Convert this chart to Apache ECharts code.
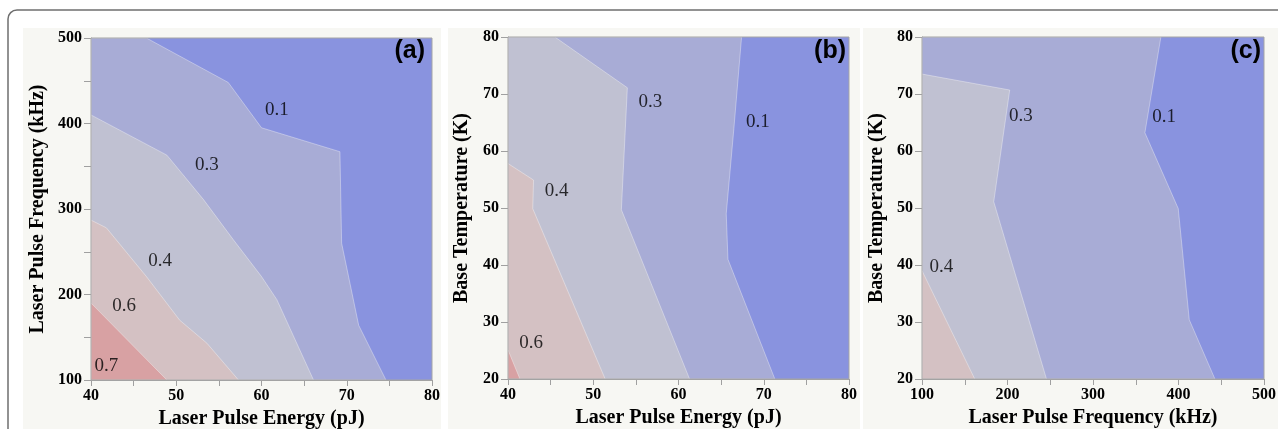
<!DOCTYPE html>
<html>
<head>
<meta charset="utf-8">
<script src="https://cdn.jsdelivr.net/npm/echarts@6/dist/echarts.min.js"></script>
<style>
html,body{margin:0;padding:0;background:#fff;}
#chart{width:1278px;height:429px;}
</style>
</head>
<body>
<div id="chart"></div>
<script>
// ---------- data ----------
const panelLabels = ['(a)', '(b)', '(c)'];
const xNames = ['Laser Pulse Energy (pJ)', 'Laser Pulse Energy (pJ)', 'Laser Pulse Frequency (kHz)'];
const yNames = ['Laser Pulse Frequency (kHz)', 'Base Temperature (K)', 'Base Temperature (K)'];
// [min, max, interval]
const xRanges = [[40, 80, 10], [40, 80, 10], [100, 500, 100]];
const yRanges = [[100, 500, 100], [20, 80, 10], [20, 80, 10]];
const levels = ['0.1', '0.3', '0.4', '0.6', '0.7'];

// contour boundaries (upper level region lies below/left of each line)
const aBound03 = [[46.5, 500], [56.1, 448], [60, 395], [69.2, 367], [69.4, 260], [71.4, 164], [74.6, 100]];
const aBound04 = [[40, 410], [48.9, 363], [53.2, 311], [56.7, 264], [60, 221], [61.8, 194], [66.1, 100]];
const aBound06 = [[40, 287], [41.8, 278], [46.5, 221], [50.4, 170], [53.6, 143], [57.3, 100]];
const aBound07 = [[40, 190], [48.9, 100]];

const bBound03 = [[67.4, 80], [66.5, 64], [65.6, 49], [65.8, 41], [71.3, 20]];
const bBound04 = [[45.5, 80], [54.0, 71.1], [53.3, 49.7], [61.3, 20]];
const bBound06 = [[40, 57.8], [43.0, 54.9], [42.9, 49.9], [51.4, 20]];
const bBound07 = [[40, 25.1], [41.4, 20]];

const cBound03 = [[379.4, 80], [360.7, 63.2], [399.7, 49.9], [412.6, 30.4], [442.6, 20]];
const cBound04 = [[100, 73.5], [202.6, 70.7], [183.9, 51.1], [245.6, 20]];
const cBound06 = [[100, 39], [161.7, 20]];

// contour labels [text, x, y]
const aLabels = [['0.1', 61.8, 416], ['0.3', 53.6, 352], ['0.4', 48.1, 239], ['0.6', 43.9, 186], ['0.7', 41.8, 116]];
const bLabels = [['0.3', 56.7, 68.6], ['0.1', 69.3, 65.1], ['0.4', 45.7, 53], ['0.6', 42.7, 26.4]];
const cLabels = [['0.3', 215.5, 66.1], ['0.1', 383.3, 65.9], ['0.4', 122.6, 39.6]];

// ---------- styling ----------
const levelColors = {'0.1': '#8993df', '0.3': '#a8acd6', '0.4': '#c0c1d2', '0.6': '#d4c1c3', '0.7': '#d8a1a3'};
const grids = [
  {left: 91, top: 38, width: 341, height: 342},
  {left: 508, top: 37, width: 341, height: 342},
  {left: 922, top: 37, width: 342, height: 342}
];
const yNameGaps = [43, 36, 35];
const titleRights = [853, 432, 17];
const minorX = [true, true, true];
const minorY = [true, false, false];

const panels = [
  {bounds: [aBound03, aBound04, aBound06, aBound07], labels: aLabels},
  {bounds: [bBound03, bBound04, bBound06, bBound07], labels: bLabels},
  {bounds: [cBound03, cBound04, cBound06], labels: cLabels}
];

function closeRegion(pts, xr, yr) {
  const out = pts.slice();
  out.push([xr[0], yr[0]]);
  if (pts[0][1] === yr[1] && pts[0][0] > xr[0]) out.push([xr[0], yr[1]]);
  return out;
}

const serif = 'Liberation Serif';
const option = {
  animation: false,
  backgroundColor: '#ffffff',
  graphic: [
    {type: 'rect', shape: {x: 23, y: 28, width: 418, height: 420}, style: {fill: '#f7f7f3'}, z: -10},
    {type: 'rect', shape: {x: 448, y: 28, width: 412, height: 420}, style: {fill: '#f7f7f3'}, z: -10},
    {type: 'rect', shape: {x: 863, y: 28, width: 420, height: 420}, style: {fill: '#f7f7f3'}, z: -10},
    {type: 'rect', shape: {x: 8, y: 10, width: 1400, height: 600, r: 9}, style: {fill: 'none', stroke: '#6f6f6f', lineWidth: 1.5}, z: -9}
  ],
  title: panelLabels.map((t, i) => ({
    text: t, right: titleRights[i], top: 39, padding: 0,
    textStyle: {fontFamily: 'Liberation Sans', fontWeight: 'bold', fontSize: 25, color: '#000'}
  })),
  grid: grids.map(g => Object.assign({show: true, z: 10, outerBoundsMode: 'none', containLabel: false, backgroundColor: 'transparent', borderColor: '#a5a5a5', borderWidth: 1}, g)),
  xAxis: xRanges.map((r, i) => ({
    type: 'value', gridIndex: i, min: r[0], max: r[1], interval: r[2],
    name: xNames[i], nameLocation: 'middle', nameGap: 27,
    nameTextStyle: {fontFamily: serif, fontWeight: 'bold', fontSize: 20, color: '#000'},
    axisLine: {show: true, lineStyle: {color: '#a0a0a0'}},
    axisTick: {show: true, length: 6, lineStyle: {color: '#a0a0a0'}},
    minorTick: {show: minorX[i], splitNumber: 2, length: 6, lineStyle: {color: '#a0a0a0'}},
    splitLine: {show: false},
    axisLabel: {fontFamily: serif, fontWeight: 'bold', fontSize: 16, color: '#000', margin: 8}
  })),
  yAxis: yRanges.map((r, i) => ({
    type: 'value', gridIndex: i, min: r[0], max: r[1], interval: r[2],
    name: yNames[i], nameLocation: 'middle', nameGap: yNameGaps[i], nameRotate: 90,
    nameTextStyle: {fontFamily: serif, fontWeight: 'bold', fontSize: 20, color: '#000'},
    axisLine: {show: true, lineStyle: {color: '#a0a0a0'}},
    axisTick: {show: true, length: 7, lineStyle: {color: '#a0a0a0'}},
    minorTick: {show: minorY[i], splitNumber: 2, length: 7, lineStyle: {color: '#a0a0a0'}},
    splitLine: {show: false},
    axisLabel: {fontFamily: serif, fontWeight: 'bold', fontSize: 16, color: '#000', margin: 9}
  })),
  series: []
};

panels.forEach((p, i) => {
  const xr = xRanges[i], yr = yRanges[i];
  const polys = [{pts: [[xr[0], yr[0]], [xr[1], yr[0]], [xr[1], yr[1]], [xr[0], yr[1]]], color: levelColors['0.1'], stroke: false}];
  p.bounds.forEach((b, k) => {
    polys.push({pts: closeRegion(b, xr, yr), color: levelColors[levels[k + 1]], stroke: true});
  });
  option.series.push({
    type: 'custom', xAxisIndex: i, yAxisIndex: i, clip: true, z: 2,
    data: polys.map(pg => pg.pts[0]),
    encode: {x: 0, y: 1},
    renderItem: function (params, api) {
      const pg = polys[params.dataIndex];
      return {
        type: 'polygon',
        shape: {points: pg.pts.map(pt => api.coord(pt))},
        style: {fill: pg.color, stroke: pg.stroke ? 'rgba(255,255,255,0.35)' : null, lineWidth: 1}
      };
    }
  });
  option.series.push({
    type: 'scatter', xAxisIndex: i, yAxisIndex: i, symbolSize: 0, z: 5,
    data: p.labels.map(l => ({name: l[0], value: [l[1], l[2]]})),
    label: {show: true, position: 'inside', formatter: '{b}', fontFamily: serif, fontSize: 19, color: '#000'}
  });
});

const chart = echarts.init(document.getElementById('chart'), null, {renderer: 'canvas'});
chart.setOption(option);
</script>
</body>
</html>
